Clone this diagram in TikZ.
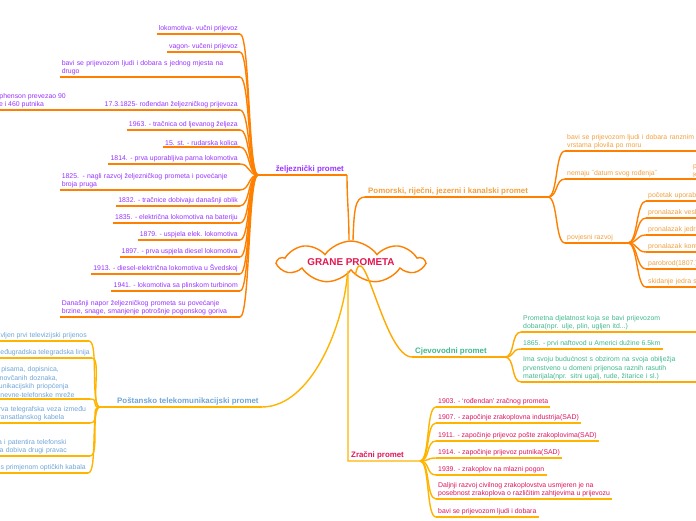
\documentclass[tikz,border=0pt]{standalone}
\usepackage{fontspec}
\setmainfont{Liberation Sans}
\definecolor{railline}{RGB}{255,128,0}
\definecolor{railtext}{RGB}{153,51,255}
\definecolor{seatext}{RGB}{242,160,64}
\definecolor{pipeline}{RGB}{255,168,0}
\definecolor{pipetext}{RGB}{64,184,140}
\definecolor{goldline}{RGB}{255,180,0}
\definecolor{posttext}{RGB}{111,165,216}
\definecolor{airtext}{RGB}{222,20,90}
\definecolor{roottext}{RGB}{226,22,80}
\usetikzlibrary{shapes.symbols}

\begin{document}
\begin{tikzpicture}[x=1pt,y=-1pt,
  root/.style={cloud,cloud puffs=9,cloud puff arc=110,cloud ignores aspect,draw=railline,line width=1.4pt,fill=white,
    minimum width=146pt,minimum height=38pt,text=roottext,font=\fontsize{9.9}{11}\selectfont\bfseries},
  branch/.style={inner xsep=3pt,inner ysep=1.8pt,font=\fontsize{7.9}{9}\selectfont\bfseries},
  leaf/.style={inner xsep=2pt,inner ysep=1.6pt,align=left,font=\fontsize{6.9}{8.5}\selectfont},
  rail/.style={draw=railline,line width=1.4pt},
  pipe/.style={draw=pipeline,line width=1.4pt},
  gold/.style={draw=goldline,line width=1.4pt}]
  \useasboundingbox (0,0) rectangle (696,520);
  \clip (0,0) rectangle (696,520);
  % Centre
  \node[root] (root) at (351,262) {GRANE PROMETA};
  % Zeljeznicki promet
  \coordinate (zhub) at (258,175);
  \node[branch,railtext,anchor=south east] (zel) at (347,175) {željeznički promet};
  \draw[rail] (zhub) -- (zel.south east);
  \draw[rail] (zel.south east) .. controls +(0,25) and +(0,-25) .. ([xshift=-2pt]root.north);
  \foreach \n/\y/\t in {1/34/{lokomotiva- vučni prijevoz},2/52/{vagon- vučeni prijevoz},
      4/110/{17.3.1825- rođendan željezničkog prijevoza},5/130/{1963. -  tračnica od ljevanog željeza},
      6/147/{15. st. - rudarska kolica},7/164/{1814. - prva uporabljiva parna lokomotiva},
      9/206/{1832. - tračnice dobivaju današnji oblik},10/223/{1835. - električna lokomotiva na bateriju},
      11/240/{1879. - uspjela elek. lokomotiva},12/257/{1897. - prva uspjela diesel lokomotiva},
      13/274/{1913. - diesel-električna lokomotiva u Švedskoj},14/291/{1941. - lokomotiva sa plinskom turbinom}}
    \node[leaf,railtext,anchor=south east] (z\n) at (240,\y) {\t};
  \node[leaf,railtext,anchor=south east,text width=176pt] (z3) at (240,77)
    {bavi se prijevozom ljudi i dobara s jednog mjesta na\\drugo};
  \node[leaf,railtext,anchor=south east,text width=176pt] (z8) at (240,190)
    {1825. - nagli razvoj željezničkog prometa i povećanje\\broja pruga};
  \node[leaf,railtext,anchor=south east,text width=176pt] (z15) at (240,317)
    {Današnji napor željezničkog prometa su povećanje\\brzine, snage, smanjenje potrošnje pogonskog goriva};
  \foreach \n in {1,...,15}{
    \draw[rail] (z\n.south west) -- (z\n.south east);
    \draw[rail] (zhub) .. controls +(-10,0) and +(10,0) .. (z\n.south east);
  }
  \node[leaf,railtext,anchor=south east] (steph) at (68,110) {Stephenson prevezao 90\\robe i 460 putnika};
  \draw[rail] (steph.south west) -- (steph.south east) -- (z4.south west);
  % Pomorski promet
  \coordinate (phub) at (548,197);
  \node[branch,seatext,anchor=south west] (pom) at (365,197) {Pomorski, riječni, jezerni i kanalski promet};
  \draw[rail] (pom.south west) -- (phub);
  \draw[rail] ([xshift=2pt]root.north) .. controls +(1,-30) and +(-10,0) .. (pom.south west);
  \node[leaf,seatext,anchor=south west,text width=200pt] (p1) at (565,151)
    {bavi se prijevozom ljudi i dobara ranznim rijekama\\vrstama plovila po moru};
  \node[leaf,seatext,anchor=south west] (p2) at (565,179) {nemaju ˝datum svog rođenja˝};
  \node[leaf,seatext,anchor=south west] (p3) at (565,243) {povjesni razvoj};
  \node[leaf,seatext,anchor=south west] (pk) at (691,179) {prvi čamci\\Kinezi};
  \draw[rail] (p2.south west) -- (pk.south west) -- (pk.south east);
  \draw[rail] (p1.south west) -- (p1.south east);
  \draw[rail] (p3.south west) -- (628,243) coordinate (rhub);
  \foreach \n in {1,2,3}
    \draw[rail] (phub) .. controls +(10,0) and +(-10,0) .. (p\n.south west);
  \foreach \n/\y/\t in {1/201/{početak uporabe splavi},2/218/{pronalazak vesla},3/235/{pronalazak jedra},
      4/252/{pronalazak kontejnera},5/269/{parobrod(1807.)},6/287/{skidanje jedra s brodova}}{
    \node[leaf,seatext,anchor=south west,text width=80pt] (r\n) at (646,\y) {\t};
    \draw[rail] (r\n.south west) -- (r\n.south east);
    \draw[rail] (rhub) .. controls +(10,0) and +(-10,0) .. (r\n.south west);
  }
  % Cjevovodni promet
  \coordinate (chub) at (505,357);
  \node[branch,pipetext,anchor=south west] (cjev) at (412,357) {Cjevovodni promet};
  \draw[pipe] (cjev.south west) -- (chub);
  \draw[pipe] (root.-72) .. controls +(8,-45) and +(-28,0) .. (cjev.south west);
  \node[leaf,pipetext,anchor=south west,text width=180pt] (c1) at (521,332)
    {Prometna djelatnost koja se bavi prijevozom\\dobara(npr. ulje, plin, ugljen itd...)};
  \node[leaf,pipetext,anchor=south west] (c2) at (521,349) {1865. - prvi naftovod u Americi dužine 6.5km};
  \node[leaf,pipetext,anchor=south west,text width=180pt] (c3) at (521,382)
    {Ima svoju budućnost s obzirom na svoja obilježja\\prvenstveno u domeni prijenosa raznih rasutih\\materijala(npr. sitni ugalj, rude, žitarice i sl.)};
  \foreach \n in {1,2,3}{
    \draw[pipe] (c\n.south west) -- (c\n.south east);
    \draw[pipe] (chub) .. controls +(10,0) and +(-10,0) .. (c\n.south west);
  }
  % Zracni promet
  \coordinate (ahub) at (420,461);
  \node[branch,airtext,anchor=south west] (zrak) at (348,461) {Zračni promet};
  \draw[gold] ([xshift=-3pt]root.south) -- (zrak.south west) -- (ahub);
  \foreach \n/\y/\t in {1/407/{1903. - ‘rođendan’ zračnog prometa},2/423/{1907. - započinje zrakoplovna industrija(SAD)},
      3/441/{1911. - započinje prijevoz pošte zrakoplovima(SAD)},4/458/{1914. - započinje prijevoz putnika(SAD)},
      5/475/{1939. - zrakoplov na mlazni pogon},
      6/499/{Daljnji razvoj civilnog zrakoplovstva usmjeren je na\\posebnost zrakoplova o različitim  zahtjevima u prijevozu},
      7/517/{bavi se prijevozom ljudi i dobara}}{
    \node[leaf,airtext,anchor=south west] (a\n) at (436,\y) {\t};
    \draw[gold] (a\n.south west) -- (a\n.south east);
    \draw[gold] (ahub) .. controls +(10,0) and +(-10,0) .. (a\n.south west);
  }
  % Postansko telekomunikacijski promet
  \coordinate (thub) at (100,407);
  \node[branch,posttext,anchor=south west] (post) at (114,407) {Poštansko telekomunikacijski promet};
  \draw[gold] (thub) -- (post.south east);
  \draw[gold] (post.south east) .. controls +(50,0) and +(-4,50) .. (root.-106);
  \node[leaf,posttext,anchor=south east] (t1) at (89,341) {1926. - napravljen prvi televizijski prijenos};
  \node[leaf,posttext,anchor=south east] (t2) at (92,358) {1844. - prva međugradska telegradska linija};
  \node[leaf,posttext,anchor=south east,text width=113pt] (t3) at (90,399)
    {prijenos pisama, dopisnica,\\paketa, novčanih doznaka,\\telekomunikacijskih priopćenja\\i svakodnevne-telefonske mreže};
  \node[leaf,posttext,anchor=south east,text width=118pt] (t4) at (90,423)
    {1866. - prva telegrafska veza između\\pomoću transatlanskog kabela};
  \node[leaf,posttext,anchor=south east,text width=120pt] (t5) at (90,456)
    {Bell otkriva i patentira telefonski\\te telefonija  dobiva drugi pravac};
  \node[leaf,posttext,anchor=south east] (t6) at (88,473) {1970. - napredak s primjenom optičkih kabala};
  \foreach \n in {1,...,6}{
    \draw[gold] (t\n.south west) -- (t\n.south east);
    \draw[gold] (thub) .. controls +(-10,0) and +(10,0) .. (t\n.south east);
  }
\end{tikzpicture}
\end{document}
